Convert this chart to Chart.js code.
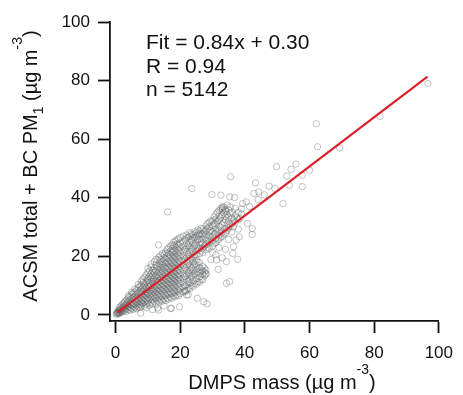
<!DOCTYPE html>
<html>
<head>
<meta charset="utf-8">
<script src="https://cdn.jsdelivr.net/npm/chart.js@4.4.1/dist/chart.umd.min.js"></script>
<style>
  html, body { margin: 0; padding: 0; background: #fff; }
  #wrap { width: 463px; height: 395px; }
</style>
</head>
<body>
<div id="wrap"><canvas id="scatterChart" width="463" height="395"></canvas></div>
<script>
// ACSM total + BC PM1 vs DMPS mass - scatter with linear fit

// --- data ---
// dense cloud, one entry per DMPS mass column: [x, [ACSM+BC values]]
const cloudColumns = [
    [0.3, [0.2, 0.7]],
    [0.6, [0.4, 1.1, 0.9]],
    [0.9, [0.6, 1.5, 1.0]],
    [1.2, [0.9, 1.8, 2.6, 0.5]],
    [1.6, [1.1, 2.0, 2.9, 1.5]],
    [2.0, [1.3, 2.4, 3.4, 0.9]],
    [2.4, [1.7, 2.7, 3.9, 2.2]],
    [2.8, [1.5, 3.1, 4.4, 2.4]],
    [3.2, [2.0, 3.6, 4.8, 1.2]],
    [3.6, [2.4, 3.3, 5.3, 4.1]],
    [4.0, [1.8, 3.0, 4.6, 5.9, 6.6]],
    [4.5, [2.6, 3.9, 5.1, 6.3, 1.6]],
    [5.0, [2.2, 3.4, 4.4, 5.6, 7.1, 7.8]],
    [5.5, [2.9, 4.0, 6.0, 7.4, 1.9]],
    [6.0, [2.5, 3.7, 5.0, 6.4, 7.9, 8.9]],
    [6.5, [3.2, 4.5, 5.5, 7.0, 8.5, 2.1]],
    [7.0, [2.7, 3.9, 5.2, 6.1, 7.6, 9.3, 10.4]],
    [7.5, [3.5, 4.7, 5.9, 8.1, 9.8, 2.6]],
    [8.0, [3.0, 4.1, 5.4, 6.8, 7.3, 8.7, 10.2, 11.6]],
    [8.5, [3.8, 5.0, 6.3, 8.0, 9.4, 11.1, 12.3]],
    [9.0, [2.9, 4.5, 5.8, 7.2, 8.5, 9.9, 10.7, 12.9]],
    [9.5, [3.6, 5.3, 6.6, 7.9, 9.2, 11.3, 13.7, 2.5]],
    [10.0, [4.0, 4.9, 6.0, 7.5, 8.8, 10.2, 11.8, 12.5, 14.4, 15.9]],
    [10.5, [3.3, 5.5, 6.9, 8.3, 9.7, 11.0, 13.2, 15.1]],
    [11.0, [4.3, 5.9, 7.2, 8.6, 10.0, 11.5, 12.6, 14.0, 16.4, 17.3]],
    [11.5, [3.7, 5.1, 6.5, 8.0, 9.3, 10.8, 12.2, 13.6, 15.2, 1.8]],
    [12.0, [4.6, 6.2, 7.7, 9.0, 10.5, 11.4, 12.9, 14.5, 16.0, 18.2]],
    [12.5, [3.9, 5.6, 7.1, 8.5, 9.9, 11.8, 13.3, 15.0, 17.1, 19.0]],
    [13.0, [4.9, 6.7, 8.1, 9.5, 11.0, 12.4, 13.8, 15.5, 16.6, 18.8, 2.4]],
    [13.5, [4.4, 5.9, 7.4, 8.9, 10.3, 11.7, 13.1, 14.6, 16.2, 17.7, 19.8]],
    [14.0, [5.2, 6.9, 8.4, 9.8, 11.3, 12.7, 14.2, 15.7, 17.2, 18.9, 20.3]],
    [14.5, [4.7, 6.3, 7.9, 9.3, 10.7, 12.1, 13.6, 15.2, 16.8, 18.3, 21.0]],
    [15.0, [5.5, 7.2, 8.8, 10.2, 11.6, 13.0, 14.6, 16.3, 17.8, 19.5, 20.6, 3.1]],
    [15.5, [5.0, 6.6, 8.2, 9.7, 11.1, 12.6, 14.1, 15.8, 17.4, 19.0, 21.5]],
    [16.0, [5.8, 7.5, 9.1, 10.6, 12.0, 13.5, 15.0, 16.6, 18.2, 19.9, 21.1, 22.4]],
    [16.5, [5.4, 7.0, 8.6, 10.1, 11.5, 12.9, 14.4, 16.0, 17.6, 19.3, 20.7, 22.9]],
    [17.0, [6.1, 7.8, 9.5, 11.0, 12.4, 13.9, 15.4, 17.0, 18.6, 20.2, 21.8, 23.5, 2.2]],
    [17.5, [5.8, 7.3, 8.9, 10.5, 11.9, 13.3, 14.8, 16.4, 18.0, 19.7, 21.3, 22.6, 24.0]],
    [18.0, [6.5, 8.2, 9.9, 11.4, 12.8, 14.3, 15.9, 17.5, 19.1, 20.5, 22.0, 23.7, 24.8]],
    [18.5, [6.2, 7.7, 9.3, 10.9, 12.3, 13.7, 15.3, 16.9, 18.4, 19.9, 21.6, 23.2, 25.3]],
    [19.0, [6.9, 8.6, 10.3, 11.8, 13.2, 14.7, 16.3, 17.8, 19.4, 21.0, 22.6, 24.2, 25.6]],
    [19.5, [6.6, 8.1, 9.7, 11.3, 12.7, 14.1, 15.7, 17.3, 18.8, 20.4, 22.1, 23.8, 26.0]],
    [20.0, [7.3, 9.0, 10.7, 12.2, 13.6, 15.1, 16.6, 18.2, 19.8, 21.4, 23.0, 24.6, 26.4]],
    [21.0, [7.8, 9.5, 11.2, 12.6, 14.1, 15.6, 17.1, 18.7, 20.3, 21.9, 23.5, 25.2, 26.9]],
    [21.5, [8.4, 10.0, 13.1, 16.1, 19.2, 22.4, 25.7, 8.0]],
    [22.0, [8.3, 10.4, 11.9, 13.5, 15.0, 16.5, 18.1, 19.7, 21.2, 22.8, 24.4, 26.0, 27.3]],
    [22.5, [9.2, 11.4, 14.2, 17.4, 20.5, 23.6, 26.6, 6.9]],
    [23.0, [9.0, 10.9, 12.5, 14.0, 15.5, 17.0, 18.6, 20.2, 21.8, 23.4, 25.0, 26.8, 28.1]],
    [23.5, [10.1, 13.2, 16.2, 19.4, 22.6, 25.6, 27.6]],
    [24.0, [9.7, 11.6, 13.4, 14.9, 16.4, 18.0, 19.6, 21.2, 22.8, 24.3, 25.9, 27.3]],
    [24.5, [10.8, 14.1, 17.3, 20.5, 23.7, 26.5, 28.4]],
    [25.0, [10.5, 12.3, 13.9, 15.5, 17.1, 18.7, 20.3, 21.9, 23.5, 25.0, 26.6, 28.0]],
    [25.5, [11.4, 14.7, 18.0, 22.7, 25.8, 27.4, 29.0]],
    [26.0, [11.2, 13.0, 14.6, 16.2, 17.9, 20.9, 22.6, 24.1, 25.7, 27.2, 28.7]],
    [26.5, [12.2, 15.4, 21.8, 24.8, 27.8, 29.6]],
    [27.0, [12.0, 13.8, 15.0, 16.6, 21.3, 22.9, 24.5, 26.1, 27.7, 29.3]],
    [27.5, [13.3, 14.6, 16.0, 23.6, 26.9, 28.5]],
    [28.0, [13.9, 15.3, 14.2, 22.2, 24.0, 25.6, 27.3, 28.9, 30.4]],
    [28.5, [23.1, 26.3, 29.6, 31.2]],
    [29.0, [22.6, 24.8, 27.0, 28.3, 30.0, 31.6]],
    [29.5, [18.9, 25.6, 28.9, 32.3]],
    [30.0, [21.4, 23.5, 25.2, 26.8, 28.4, 30.5, 32.0]],
    [30.5, [24.4, 27.7, 31.1, 33.5]],
    [31.0, [20.6, 24.7, 26.2, 27.9, 29.4, 31.2, 32.8, 34.4]],
    [31.5, [25.5, 28.7, 32.0, 35.1]],
    [32.0, [23.0, 25.8, 27.2, 28.9, 30.3, 32.4, 33.7, 35.6]],
    [32.5, [26.5, 29.8, 33.1, 36.3]],
    [33.0, [19.5, 26.8, 28.3, 30.9, 34.2, 35.8, 37.0]],
    [33.5, [27.6, 31.6, 34.9, 36.8]],
    [34.0, [22.4, 28.0, 29.5, 32.4, 33.6, 35.4, 36.1]],
    [34.5, [28.9, 31.0, 34.4, 37.5]],
    [35.0, [25.8, 29.7, 32.0, 33.3, 35.9]],
    [35.5, [30.4, 34.6, 36.9]],
    [36.0, [28.3, 31.2, 33.0, 35.2]],
    [36.5, [30.0, 32.5]],
    [37.0, [31.7, 34.0, 36.4]],
    [37.5, [33.2]],
    [38.0, [29.3, 32.6, 35.1]],
    [39.0, [34.5, 36.2]]
];

// scattered points away from the cloud: [DMPS, ACSM+BC]
const outlierPoints = [
    [96.6, 79.0], [81.8, 67.8], [62.1, 65.3], [62.5, 57.4], [69.3, 57.0],
    [55.8, 51.5], [54.3, 49.7], [49.8, 50.6], [53.0, 47.4], [60.0, 49.4],
    [57.8, 47.7], [53.8, 44.3], [57.8, 43.8], [49.3, 43.2], [51.8, 38.0],
    [43.3, 45.1], [44.3, 42.0], [42.8, 41.5], [44.1, 39.4], [40.5, 38.6],
    [39.3, 38.0], [35.6, 47.2], [29.8, 41.1], [32.6, 40.9], [35.3, 40.3],
    [36.8, 40.1], [23.6, 43.2], [16.1, 35.2], [42.3, 29.5], [42.3, 27.5],
    [38.3, 26.7], [36.5, 23.3], [36.3, 21.0], [37.8, 19.0], [34.3, 18.2],
    [31.8, 15.6], [35.3, 11.4], [34.3, 10.8], [25.3, 5.7], [27.3, 4.5],
    [28.3, 3.8], [22.0, 6.8], [19.8, 2.8], [17.3, 2.3], [13.3, 1.7],
    [7.8, 0.6], [31.3, 18.8], [37.3, 25.6], [40.8, 31.3], [13.3, 23.9],
    [46.0, 41.0], [47.5, 44.0], [41.5, 37.0], [38.5, 33.0], [33.0, 36.5]
];

// fitted line end points (Fit = 0.84x + 0.30)
const fitX = [0.5, 96.5];
const fitY = [0.72, 81.36];

const tickValues = [0, 20, 40, 60, 80, 100];
const statsLines = ['Fit = 0.84x + 0.30', 'R = 0.94', 'n = 5142'];

const xTitleParts = [{ t: 'DMPS mass (\u00b5g m' }, { t: '-3', sup: true }, { t: ')' }];
const yTitleParts = [{ t: 'ACSM total + BC PM' }, { t: '1', sub: true }, { t: ' (\u00b5g m' }, { t: '-3', sup: true }, { t: ')' }];

const FONT = '"Liberation Sans", Arial, Helvetica, sans-serif';

// --- build datasets ---
const scatterData = [];
cloudColumns.forEach(([x, ys]) => ys.forEach(y => scatterData.push({ x: x, y: y })));
outlierPoints.forEach(([x, y]) => scatterData.push({ x: x, y: y }));

const fitData = fitX.map((x, i) => ({ x: x, y: fitY[i] }));

// draws text with sub/superscripts, centered on cx
function drawRich(ctx, parts, cx, baseY) {
    const big = '20px ' + FONT;
    const small = '14px ' + FONT;
    let total = 0;
    parts.forEach(p => {
        ctx.font = (p.sup || p.sub) ? small : big;
        p.w = ctx.measureText(p.t).width;
        total += p.w;
    });
    let x = cx - total / 2;
    parts.forEach(p => {
        ctx.font = (p.sup || p.sub) ? small : big;
        let dy = 0;
        if (p.sup) dy = -15;
        if (p.sub) dy = 6;
        ctx.fillText(p.t, x, baseY + dy);
        x += p.w;
    });
}

const textPlugin = {
    id: 'textPlugin',
    afterDraw(chart) {
        const ctx = chart.ctx;
        ctx.save();
        ctx.fillStyle = '#111';
        ctx.textAlign = 'left';
        ctx.textBaseline = 'alphabetic';

        ctx.font = '21px ' + FONT;
        statsLines.forEach((t, i) => ctx.fillText(t, 146, 49 + i * 23.5));

        drawRich(ctx, xTitleParts, 282, 389);

        ctx.translate(37, 166);
        ctx.rotate(-Math.PI / 2);
        drawRich(ctx, yTitleParts, 0, 0);
        ctx.restore();
    }
};

const setTicks = axis => { axis.ticks = tickValues.map(v => ({ value: v })); };

const ctx = document.getElementById('scatterChart');
new Chart(ctx, {
    type: 'scatter',
    data: {
        datasets: [
            {
                type: 'line',
                label: 'Fit',
                data: fitData,
                borderColor: '#da2129',
                borderWidth: 2.2,
                pointRadius: 0,
                fill: false,
                order: 0
            },
            {
                label: 'DMPS vs ACSM',
                data: scatterData,
                pointRadius: 3.2,
                pointBorderWidth: 0.8,
                borderColor: 'rgba(85, 90, 90, 0.45)',
                backgroundColor: 'rgba(0, 0, 0, 0)',
                order: 1
            }
        ]
    },
    options: {
        responsive: false,
        animation: false,
        layout: { padding: { left: 0, right: 14, top: 22, bottom: 0 } },
        plugins: {
            legend: { display: false },
            tooltip: { enabled: false }
        },
        scales: {
            x: {
                type: 'linear',
                min: -1.7,
                max: 100,
                afterBuildTicks: setTicks,
                afterFit: s => { s.height = 74; },
                ticks: { color: '#111', font: { family: FONT, size: 17 }, padding: 10, maxRotation: 0 },
                grid: { drawOnChartArea: false, tickLength: 12, tickColor: '#111', tickWidth: 1.8 },
                border: { color: '#111', width: 1.8 }
            },
            y: {
                type: 'linear',
                min: -2.05,
                max: 100,
                afterBuildTicks: setTicks,
                afterFit: s => { s.width = 110; },
                ticks: { color: '#111', font: { family: FONT, size: 17 }, padding: 8 },
                grid: { drawOnChartArea: false, tickLength: 12, tickColor: '#111', tickWidth: 1.8 },
                border: { color: '#111', width: 1.8 }
            }
        }
    },
    plugins: [textPlugin]
});
</script>
</body>
</html>
